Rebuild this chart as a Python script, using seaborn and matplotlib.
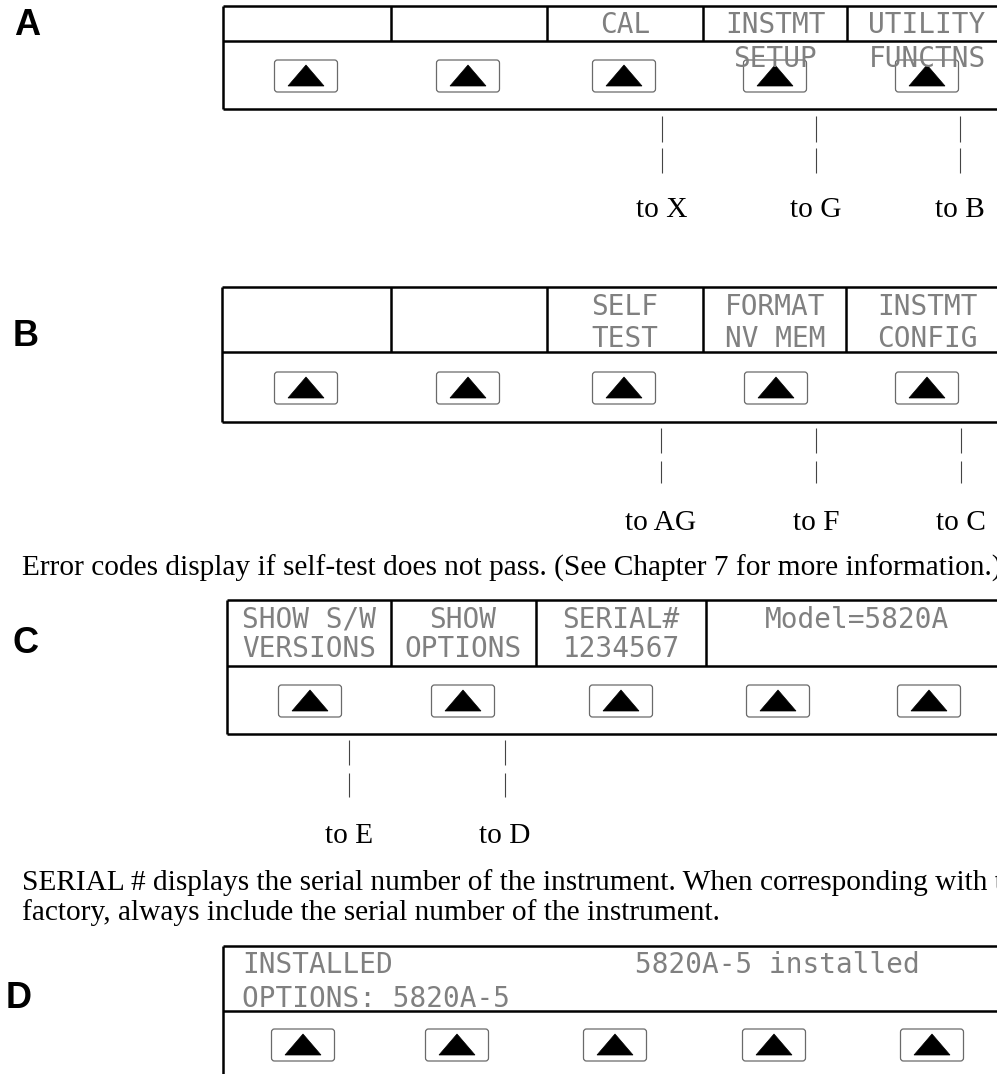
"""
Menu tree of the calibrator front-panel softkeys (panels A-D)
Drawn on a pixel-sized axes so every box lines up with the reference page
"""

import matplotlib
matplotlib.use("Agg")
import matplotlib.pyplot as plt
from matplotlib.patches import FancyBboxPatch, Polygon
import seaborn as sns

# Panel letters
PANELS = ["A", "B", "C", "D"]

# Softkey labels (top line, bottom line) per menu
A_LABELS = [("", ""), ("", ""), ("CAL", ""), ("INSTMT", "SETUP"), ("UTILITY", "FUNCTNS")]
B_LABELS = [("", ""), ("", ""), ("SELF", "TEST"), ("FORMAT", "NV MEM"), ("INSTMT", "CONFIG")]
C_LABELS = [("SHOW S/W", "VERSIONS"), ("SHOW", "OPTIONS"), ("SERIAL#", "1234567")]
C_MODEL = "Model=5820A"
D_LINE1 = ["INSTALLED", "5820A-5 installed"]
D_LINE2 = "OPTIONS: 5820A-5"

# Where each softkey leads
A_TARGETS = ["to X", "to G", "to B"]
B_TARGETS = ["to AG", "to F", "to C"]
C_TARGETS = ["to E", "to D"]

NOTE_B = "Error codes display if self-test does not pass. (See Chapter 7 for more information.)"
NOTE_C = [
    "SERIAL # displays the serial number of the instrument. When corresponding with the",
    "factory, always include the serial number of the instrument.",
]

# Layout (pixels)
W, H = 997, 1074
RIGHT = 1010          # boxes run past the right edge of the page
BOX_LW = 1.8
BTN_W, BTN_H = 63, 32

sns.set_theme(style="white")
plt.rcParams['font.family'] = ['DejaVu Sans']

LCD = dict(family=["DejaVu Sans Mono"], fontsize=20, color="#808080")
SERIF = dict(family=["Liberation Serif", "DejaVu Serif"], fontsize=21.2, color="black")
LETTER = dict(family=["Liberation Sans", "DejaVu Sans"], fontsize=26, fontweight="bold",
              color="black")


def menu_box(ax, left, top, sep, bottom, dividers):
    """Outline of one display: label strip on top, key strip below"""
    ax.hlines([top, sep], left, RIGHT, color="black", lw=BOX_LW)
    if bottom is not None:
        ax.hlines(bottom, left, RIGHT, color="black", lw=BOX_LW)
    ax.vlines(left, top, bottom if bottom is not None else H + 5, color="black", lw=BOX_LW)
    if dividers:
        ax.vlines(dividers, top, sep, color="black", lw=BOX_LW)


def softkeys(ax, xs, y0):
    """Rounded key caps with a black up-arrow"""
    for x in xs:
        ax.add_patch(FancyBboxPatch((x - BTN_W / 2, y0), BTN_W, BTN_H,
                                    boxstyle="round,pad=0,rounding_size=3",
                                    fc="none", ec="#6a6a6a", lw=0.9))
        ax.add_patch(Polygon([(x - 18, y0 + 26), (x + 18, y0 + 26), (x, y0 + 5)],
                             closed=True, fc="black", ec="black", lw=0.5))


def lcd_row(ax, x, y, text, ha="center"):
    # y is the centre of the capitals
    ax.text(x, y + 10, text, ha=ha, va="baseline", **LCD)


def connectors(ax, xs, segs, labels, label_y):
    for x, lab in zip(xs, labels):
        for y0, y1 in segs:
            ax.vlines(x, y0, y1, color="#444444", lw=0.8)
        ax.text(x, label_y, lab, ha="center", va="baseline", **SERIF)


fig = plt.figure(figsize=(W / 100, H / 100), dpi=100)
ax = fig.add_axes([0, 0, 1, 1])
ax.set_xlim(0, W)
ax.set_ylim(H, 0)
ax.axis("off")

# Panel letters
for letter, (x, y) in zip(PANELS, [(14, 22), (13, 333), (12, 640), (6, 995)]):
    ax.text(x, y + 13, letter, ha="left", va="baseline", **LETTER)

# ---- A ----
menu_box(ax, 223, 6, 41, 109, [391, 547, 703, 847])
for xc, (l1, l2) in zip([307, 469, 625, 775, 927], A_LABELS):
    lcd_row(ax, xc, 23, l1)
    lcd_row(ax, xc, 57, l2)
softkeys(ax, [306, 468, 624, 775, 927], 60)
connectors(ax, [662, 816, 960], [(116, 142), (148, 173)], A_TARGETS, 217)

# ---- B ----
menu_box(ax, 222, 287, 352, 422, [391, 547, 703, 846])
for xc, (l1, l2) in zip([307, 469, 625, 775, 927], B_LABELS):
    lcd_row(ax, xc, 305, l1)
    lcd_row(ax, xc, 337, l2)
softkeys(ax, [306, 468, 624, 776, 927], 372)
connectors(ax, [661, 816, 961], [(428, 453), (461, 483)], B_TARGETS, 530)

ax.text(22, 576, NOTE_B, ha="left", va="baseline", **SERIF)

# ---- C ----
menu_box(ax, 227, 600, 666, 734, [391, 536, 706])
for xc, (l1, l2) in zip([309, 463, 621], C_LABELS):
    lcd_row(ax, xc, 618, l1)
    lcd_row(ax, xc, 647, l2)
lcd_row(ax, 857, 618, C_MODEL)
softkeys(ax, [310, 463, 621, 778, 929], 685)
connectors(ax, [349, 505], [(740, 765), (773, 797)], C_TARGETS, 843)

for i, line in enumerate(NOTE_C):
    ax.text(22, 890 + 30 * i, line, ha="left", va="baseline", **SERIF)

# ---- D ----
menu_box(ax, 223, 946, 1011, None, [])
lcd_row(ax, 242, 963, D_LINE1[0], ha="left")
lcd_row(ax, 635, 963, D_LINE1[1], ha="left")
lcd_row(ax, 242, 997, D_LINE2, ha="left")
softkeys(ax, [303, 457, 615, 774, 932], 1029)

fig.savefig("out.png", dpi=100)
plt.close(fig)
